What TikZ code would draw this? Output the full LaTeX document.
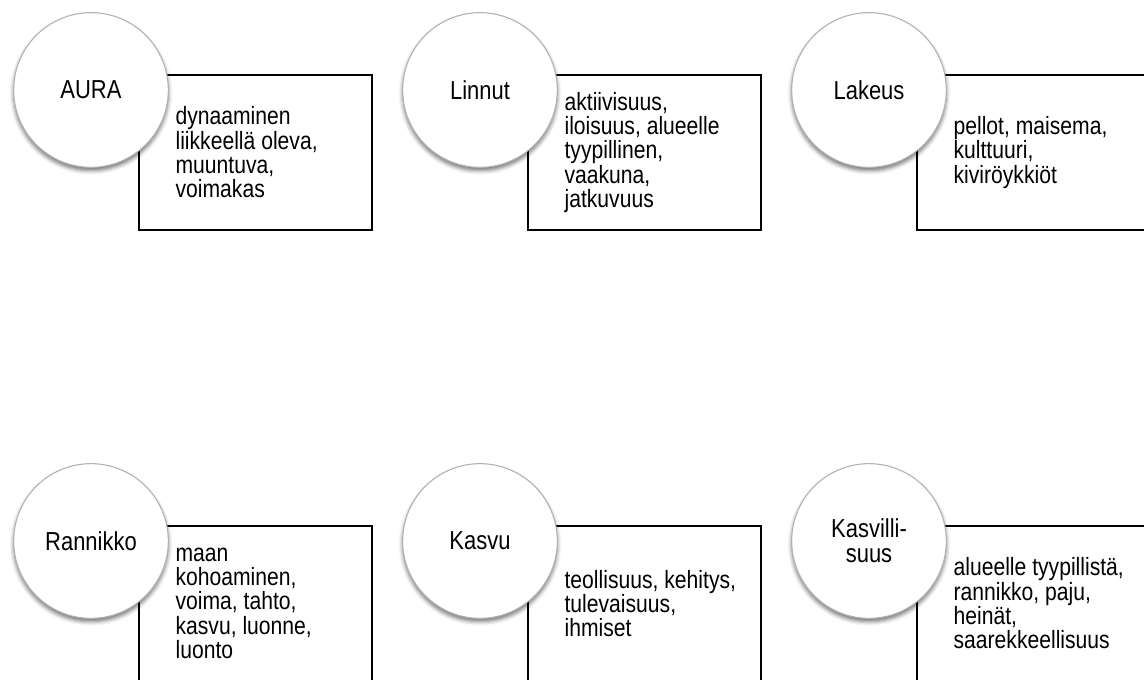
\documentclass[tikz,border=0pt]{standalone}
\usepackage{fontspec}
\setmainfont{Liberation Sans}
\newfontfamily\narrowsans[FakeStretch=0.845]{Liberation Sans}
\usetikzlibrary{shadows.blur, positioning}

\tikzset{
  bubble/.style={circle, draw=gray!60, line width=0.8pt, fill=white, minimum size=116pt,
    inner sep=0pt, align=center, font=\narrowsans\fontsize{19.5}{18.6}\selectfont,
    blur shadow={shadow xshift=0pt, shadow yshift=-2.5pt, shadow blur radius=3pt, shadow opacity=55}},
  card/.style={draw=black, line width=1.3pt, minimum width=174.75pt, minimum height=116.25pt,
    inner sep=0pt, anchor=north west},
  cardtext/.style={anchor=west, align=left, inner sep=0pt, font=\narrowsans\fontsize{18.75}{18.2}\selectfont}
}

\begin{document}
\begin{tikzpicture}[x=0.75pt, y=-0.75pt]
    \useasboundingbox (0,0) rectangle (1144,680);

    % Boxes first, circles on top
    \foreach \name/\cx/\cy/\label/\desc in {
        aura/91/90/AURA/{dynaaminen\\liikkeellä oleva,\\muuntuva,\\voimakas},
        linnut/480/90/Linnut/{aktiivisuus,\\iloisuus, alueelle\\tyypillinen,\\vaakuna,\\jatkuvuus},
        lakeus/869/90/Lakeus/{pellot, maisema,\\kulttuuri,\\kiviröykkiöt},
        rannikko/91/541/Rannikko/{maan\\kohoaminen,\\voima, tahto,\\kasvu, luonne,\\luonto},
        kasvu/480/541/Kasvu/{teollisuus, kehitys,\\tulevaisuus,\\ihmiset},
        kasvillisuus/869/541/{Kasvilli-\\suus}/{alueelle tyypillistä,\\rannikko, paju,\\heinät,\\saarekkeellisuus}} {
        \node[card] (\name box) at (\cx+47,\cy-16) {};
        \node[cardtext] (\name text) at ([xshift=28pt]\name box.west) {\desc};
        \node[bubble] (\name) at (\cx,\cy) {\label};
    }
\end{tikzpicture}
\end{document}
